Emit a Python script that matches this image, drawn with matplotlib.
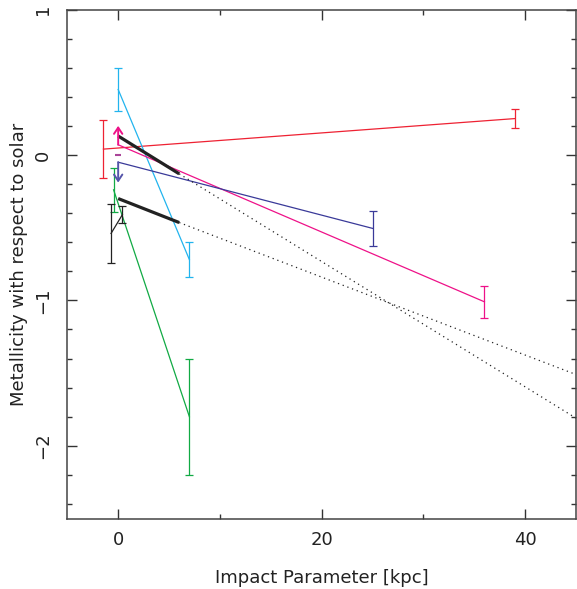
import numpy as np
import matplotlib
matplotlib.use('Agg')
import matplotlib.pyplot as plt
from matplotlib.ticker import MultipleLocator

# values (impact parameter in kpc, metallicity)
red_x = [-1.45, 39.0]
red_y = [0.04, 0.25]
red_err = [0.20, 0.065]

pink_x = [0.0, 36.0]
pink_y = [0.07, -1.01]
pink_err_x = [36.0]
pink_err_y = [-1.01]
pink_err = [0.11]
pink_arrow = (0.0, 0.07, 0.20)   # lower limit: x, from, to
pink_dash = (0.0, 0.0)

cyan_x = [0.0, 7.0]
cyan_y = [0.45, -0.72]
cyan_err = [0.15, 0.12]

navy_x = [0.0, 25.0]
navy_y = [-0.05, -0.505]
navy_err_x = [25.0]
navy_err_y = [-0.505]
navy_err = [0.12]
navy_arrow = (0.0, -0.05, -0.19)  # upper limit

green_x = [-0.45, 7.0]
green_y = [-0.24, -1.80]
green_err = [0.15, 0.40]

black_x = [-0.7, 0.42]
black_y = [-0.54, -0.41]
black_err = [0.20, 0.06]

# thick fits (0-6 kpc) and their dotted extrapolations
fit1_x = [0.0, 6.0]
fit1_y = [0.13, -0.13]
fit1_ext_x = [6.0, 45.0]
fit1_ext_y = [-0.13, -1.81]
fit2_x = [0.0, 6.0]
fit2_y = [-0.30, -0.465]
fit2_ext_x = [6.0, 45.0]
fit2_ext_y = [-0.465, -1.51]

c_red = '#ee2233'
c_pink = '#ee1188'
c_cyan = '#22b4ee'
c_navy = '#3a3a99'
c_green = '#11aa44'
c_black = '#222222'

plt.rcParams['font.family'] = 'DejaVu Sans'

fig = plt.figure(figsize=(5.77, 5.89), dpi=100)
ax = fig.add_axes([67.3/577, 70.5/589, 508.7/577, 509/589])

lw = 0.9
ebkw = dict(fmt='none', elinewidth=lw, capsize=3, capthick=lw)

ax.plot(red_x, red_y, color=c_red, lw=lw)
ax.errorbar(red_x, red_y, yerr=red_err, ecolor=c_red, **ebkw)

ax.plot(cyan_x, cyan_y, color=c_cyan, lw=lw)
ax.errorbar(cyan_x, cyan_y, yerr=cyan_err, ecolor=c_cyan, **ebkw)

ax.plot(pink_x, pink_y, color=c_pink, lw=lw)
ax.errorbar(pink_err_x, pink_err_y, yerr=pink_err, ecolor=c_pink, **ebkw)
ax.annotate('', xy=(pink_arrow[0], pink_arrow[2]), xytext=(pink_arrow[0], pink_arrow[1]),
            arrowprops=dict(arrowstyle='->,head_length=0.45,head_width=0.3',
                            color=c_pink, lw=1.4, shrinkA=0, shrinkB=0))
ax.plot([pink_dash[0]], [pink_dash[1]], marker='_', ms=5, mew=1.5, color='#aa4499')

ax.plot(navy_x, navy_y, color=c_navy, lw=lw)
ax.errorbar(navy_err_x, navy_err_y, yerr=navy_err, ecolor=c_navy, **ebkw)
ax.annotate('', xy=(navy_arrow[0], navy_arrow[2]), xytext=(navy_arrow[0], navy_arrow[1]),
            arrowprops=dict(arrowstyle='->,head_length=0.45,head_width=0.3',
                            color='#5555aa', lw=1.4, shrinkA=0, shrinkB=0))

ax.plot(green_x, green_y, color=c_green, lw=lw)
ax.errorbar(green_x, green_y, yerr=green_err, ecolor=c_green, **ebkw)

ax.plot(black_x, black_y, color=c_black, lw=lw)
ax.errorbar(black_x, black_y, yerr=black_err, ecolor=c_black, **ebkw)

ax.plot(fit1_x, fit1_y, color=c_black, lw=2.3, solid_capstyle='butt')
ax.plot(fit2_x, fit2_y, color=c_black, lw=2.3, solid_capstyle='butt')
ax.plot(fit1_ext_x, fit1_ext_y, color=c_black, lw=0.9, ls=(0, (1, 3)))
ax.plot(fit2_ext_x, fit2_ext_y, color=c_black, lw=0.9, ls=(0, (1, 3)))

ax.set_xlim(-5, 45)
ax.set_ylim(-2.5, 1)
ax.xaxis.set_major_locator(MultipleLocator(20))
ax.xaxis.set_minor_locator(MultipleLocator(10))
ax.yaxis.set_major_locator(MultipleLocator(1))
ax.yaxis.set_minor_locator(MultipleLocator(0.2))

ax.tick_params(which='both', direction='in', top=True, right=True,
               color='#333333', width=1, labelsize=13, labelcolor='#222222')
ax.tick_params(which='major', length=7)
ax.tick_params(which='minor', length=3.5)
ax.tick_params(axis='x', pad=9)
ax.tick_params(axis='y', pad=11)
for tl in ax.get_yticklabels():
    tl.set_rotation(90)
    tl.set_va('center')

for s in ax.spines.values():
    s.set_color('#444444')
    s.set_linewidth(1.1)

ax.set_xlabel('Impact Parameter [kpc]', fontsize=13, color='#222222')
ax.set_ylabel('Metallicity with respect to solar', fontsize=13, color='#222222')
ax.xaxis.label.set_va('center')
ax.yaxis.label.set_va('center')
ax.xaxis.set_label_coords(0.5, (518.5 - 578) / 509)
ax.yaxis.set_label_coords((19 - 67.3) / 508.7, 0.5)

fig.savefig('out.png', dpi=100)
